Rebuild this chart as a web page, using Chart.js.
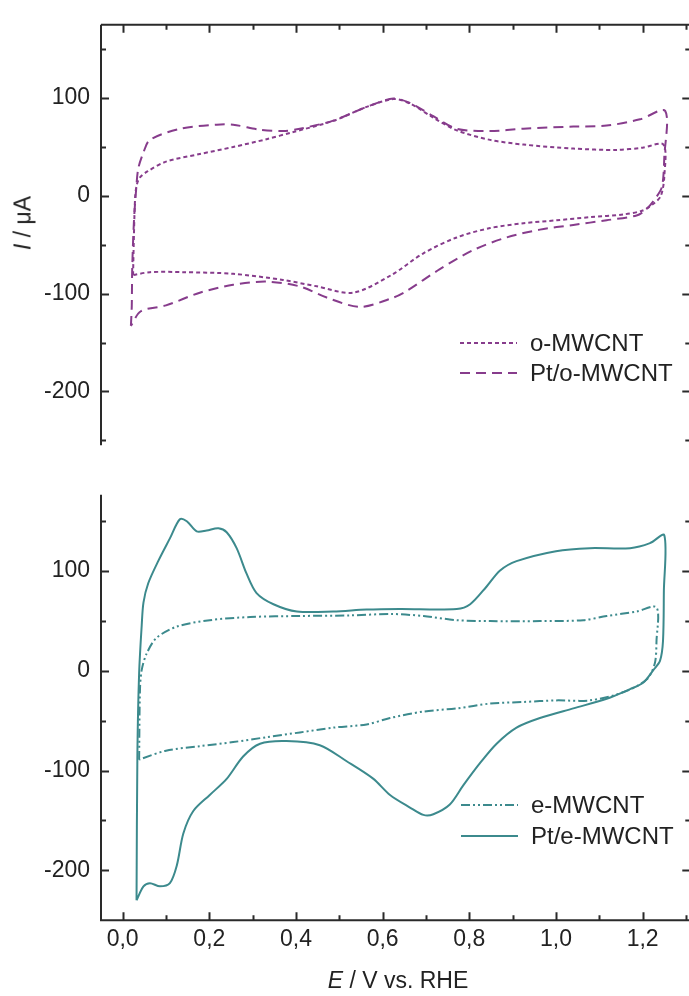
<!DOCTYPE html>
<html>
<head>
<meta charset="utf-8">
<script src="https://cdn.jsdelivr.net/npm/chart.js@4.4.1/dist/chart.umd.min.js"></script>
<style>
  body { margin: 0; background: #fff; width: 689px; height: 996px; overflow: hidden; position: relative;
         font-family: "Liberation Sans", Arial, sans-serif; color: #222; }
  #topCanvas { position: absolute; left: 0; top: 0; }
  #botCanvas { position: absolute; left: 0; top: 470px; }
  .axis-title { position: absolute; font-size: 23px; white-space: nowrap; transform: translate(-50%, -50%); }
  #yTitle { left: 23px; top: 223px; transform: translate(-50%, -50%) rotate(-90deg); }
  #xTitle { left: 398px; top: 980px; }
</style>
</head>
<body>
<canvas id="topCanvas" width="700" height="470"></canvas>
<canvas id="botCanvas" width="700" height="526"></canvas>
<div class="axis-title" id="yTitle"><i>I</i> / μA</div>
<div class="axis-title" id="xTitle"><i>E</i> / V vs. RHE</div>
<script>
// E in V vs. RHE, I in µA
const oE = [0.024, 0.026, 0.029, 0.033, 0.04, 0.057, 0.10, 0.178, 0.255, 0.332, 0.394, 0.486, 0.563, 0.625, 0.663, 0.717, 0.771, 0.848, 0.925, 1.04, 1.14, 1.2, 1.248, 1.25, 1.242, 1.225, 1.2, 1.155, 1.08, 1.002, 0.925, 0.848, 0.771, 0.694, 0.62, 0.532, 0.448, 0.37, 0.255, 0.14, 0.063, 0.024];
const oI = [-81, -40, 0, 12, 19, 25, 35, 42.8, 50, 58, 65.4, 76.7, 91, 99, 94.5, 80, 67, 57.3, 52.5, 48.4, 47, 49.3, 52.5, 20, 0, -8, -15, -19, -21.7, -24.9, -28, -32.9, -42.5, -58.7, -81, -99, -92.5, -86, -79.7, -78, -78, -81];

const ptoE = [0.019, 0.021, 0.022, 0.026, 0.031, 0.036, 0.048, 0.063, 0.133, 0.217, 0.255, 0.317, 0.37, 0.409, 0.486, 0.563, 0.625, 0.663, 0.717, 0.771, 0.848, 0.925, 1.04, 1.117, 1.194, 1.252, 1.25, 1.245, 1.232, 1.209, 1.186, 1.117, 1.04, 0.963, 0.886, 0.809, 0.732, 0.655, 0.625, 0.548, 0.471, 0.409, 0.332, 0.255, 0.178, 0.10, 0.042, 0.019];
const ptoI = [-133, -113, -75, -26, 6, 28, 44.5, 57.3, 68.7, 72.8, 72.8, 67.7, 66.3, 68.7, 77, 91, 99.5, 95, 81.5, 68.7, 66.3, 68.7, 70.9, 71.9, 78.3, 87, 40, 10, -1, -13.5, -20, -24.9, -29.7, -34.5, -42.5, -55.5, -74.9, -97.4, -104, -113.5, -104, -92.6, -87.7, -90.9, -99, -112, -118, -133];

const eE = [0.038, 0.04, 0.044, 0.055, 0.078, 0.125, 0.201, 0.294, 0.409, 0.525, 0.62, 0.694, 0.771, 0.848, 0.963, 1.063, 1.117, 1.186, 1.232, 1.232, 1.228, 1.209, 1.155, 1.078, 1.0, 0.925, 0.848, 0.771, 0.694, 0.617, 0.563, 0.486, 0.409, 0.332, 0.255, 0.178, 0.10, 0.038];
const eI = [-89, -18.3, 1, 17, 33, 44.4, 50.8, 54, 55, 55.6, 57, 55, 50.8, 49.9, 49.9, 50.8, 55, 59.5, 63.6, 30, 7.4, -8.7, -21.5, -29.6, -29.6, -31.2, -32.8, -37.6, -40.8, -47.3, -53.7, -56.9, -61.7, -66.5, -71.4, -75.5, -80, -89];

const pteE = [0.032, 0.034, 0.038, 0.044, 0.048, 0.059, 0.082, 0.109, 0.132, 0.148, 0.171, 0.194, 0.221, 0.24, 0.263, 0.286, 0.309, 0.348, 0.402, 0.486, 0.563, 0.64, 0.771, 0.802, 0.84, 0.871, 0.909, 1.0, 1.078, 1.171, 1.217, 1.25, 1.249, 1.247, 1.24, 1.225, 1.201, 1.171, 1.117, 1.04, 0.963, 0.909, 0.863, 0.825, 0.786, 0.755, 0.717, 0.694, 0.663, 0.617, 0.578, 0.517, 0.455, 0.378, 0.317, 0.278, 0.24, 0.201, 0.163, 0.14, 0.125, 0.109, 0.086, 0.063, 0.048, 0.032];
const pteI = [-230, -82.6, -2.2, 46, 68.5, 87.8, 110, 132.8, 152, 150, 139.8, 140.8, 143, 139, 123, 97.4, 78, 66.8, 59.5, 59.5, 61.4, 62, 62, 66.8, 84.6, 100.6, 110, 120, 123, 123, 128, 136, 80, 30, 10, 1, -12, -18.3, -28, -37.6, -47.3, -56.9, -73, -92.3, -114.8, -134, -143.7, -144.4, -137, -124.4, -108, -90.6, -74.5, -70.4, -73, -85.8, -108.3, -124.4, -140.5, -163, -195, -212.8, -216, -212.8, -216, -230];

const xTicks = [0, 0.2, 0.4, 0.6, 0.8, 1.0, 1.2];
const xMinor = [0.1, 0.3, 0.5, 0.7, 0.9, 1.1, 1.3];
const yTicks = [-200, -100, 0, 100];
const yMinor = [-250, -150, -50, 50, 150];

const purple = '#873c8c';
const teal = '#3c8a8d';
const axisColor = '#2a2a2a';
const X_MIN = -0.05, X_MAX = 1.31;

function pts(xs, ys) {
    return xs.map((x, i) => ({ x: x, y: ys[i] }));
}

// axis lines and inward tick marks, drawn on the scales of each chart
const framePlugin = {
    id: 'frame',
    afterDraw(chart, args, opts) {
        const ctx = chart.ctx;
        const a = chart.chartArea;
        const xs = chart.scales.x, ys = chart.scales.y;
        ctx.save();
        ctx.strokeStyle = axisColor;
        ctx.lineWidth = 2;
        ctx.beginPath();
        ctx.moveTo(a.left, a.top); ctx.lineTo(a.left, a.bottom);
        if (opts.top) { ctx.moveTo(a.left, a.top); ctx.lineTo(a.right, a.top); }
        if (opts.bottom) { ctx.moveTo(a.left - 1, a.bottom); ctx.lineTo(a.right, a.bottom); }
        if (opts.right) { ctx.moveTo(a.right, a.top); ctx.lineTo(a.right, a.bottom); }
        const yAll = yTicks.map(v => [v, 8]).concat(yMinor.map(v => [v, 5]));
        yAll.forEach(([v, len]) => {
            const py = Math.round(ys.getPixelForValue(v)) + 0.5;
            if (py < a.top || py > a.bottom) return;
            ctx.moveTo(a.left, py); ctx.lineTo(a.left + len, py);
            if (opts.right) { ctx.moveTo(a.right, py); ctx.lineTo(a.right - len, py); }
        });
        const xAll = xTicks.map(v => [v, 8]).concat(xMinor.map(v => [v, 5]));
        xAll.forEach(([v, len]) => {
            const px = Math.round(xs.getPixelForValue(v)) + 0.5;
            if (opts.top) { ctx.moveTo(px, a.top); ctx.lineTo(px, a.top + len); }
            if (opts.bottom) { ctx.moveTo(px, a.bottom); ctx.lineTo(px, a.bottom - len); }
        });
        ctx.stroke();
        ctx.restore();
    }
};

// legend inside the plot, line sample then label
const innerLegend = {
    id: 'innerLegend',
    afterDraw(chart, args, opts) {
        const ctx = chart.ctx;
        ctx.save();
        ctx.font = '24px "Liberation Sans", Arial, sans-serif';
        ctx.textBaseline = 'middle';
        ctx.fillStyle = '#222';
        chart.data.datasets.forEach((ds, i) => {
            const y = opts.y[i];
            ctx.strokeStyle = ds.borderColor;
            ctx.lineWidth = ds.borderWidth;
            ctx.setLineDash(ds.borderDash || []);
            ctx.beginPath();
            ctx.moveTo(opts.x, y); ctx.lineTo(opts.x + 57, y);
            ctx.stroke();
            ctx.setLineDash([]);
            ctx.fillText(ds.label, opts.x + 70, y + 1);
        });
        ctx.restore();
    }
};

const tickFont = { family: '"Liberation Sans", Arial, sans-serif', size: 23 };

function makeOptions(yMin, yMax, padTop, xHeight, showX, frame, legend) {
    return {
        responsive: false,
        animation: false,
        layout: { padding: { top: padTop, right: 700 - 690.3, left: 0, bottom: 0 } },
        plugins: { legend: { display: false }, tooltip: { enabled: false }, frame: frame, innerLegend: legend },
        elements: { point: { radius: 0 }, line: { tension: 0.3 } },
        scales: {
            x: {
                type: 'linear', min: X_MIN, max: X_MAX,
                grid: { display: false, drawTicks: false }, border: { display: false },
                afterBuildTicks: s => { s.ticks = xTicks.map(v => ({ value: v })); },
                ticks: {
                    display: showX, autoSkip: false, maxRotation: 0, padding: 6,
                    color: '#222', font: tickFont,
                    callback: v => v.toFixed(1).replace('.', ',')
                },
                afterFit: s => { s.height = xHeight; }
            },
            y: {
                type: 'linear', min: yMin, max: yMax,
                grid: { display: false, drawTicks: false }, border: { display: false },
                afterBuildTicks: s => { s.ticks = yTicks.map(v => ({ value: v })); },
                ticks: { autoSkip: false, padding: 11, color: '#222', font: tickFont, callback: v => String(v) },
                afterFit: s => { s.width = 101; }
            }
        }
    };
}

new Chart(document.getElementById('topCanvas'), {
    type: 'scatter',
    data: {
        datasets: [
            { label: 'o-MWCNT', data: pts(oE, oI), showLine: true, borderColor: purple, borderWidth: 2, borderDash: [4, 3] },
            { label: 'Pt/o-MWCNT', data: pts(ptoE, ptoI), showLine: true, borderColor: purple, borderWidth: 2, borderDash: [10, 6] }
        ]
    },
    options: makeOptions(-255, 175, 18.35, 7, false, { top: true, right: true }, { x: 460, y: [343, 373] }),
    plugins: [framePlugin, innerLegend]
});

new Chart(document.getElementById('botCanvas'), {
    type: 'scatter',
    data: {
        datasets: [
            { label: 'e-MWCNT', data: pts(eE, eI), showLine: true, borderColor: teal, borderWidth: 2, borderDash: [9, 3, 2, 3, 2, 3] },
            { label: 'Pt/e-MWCNT', data: pts(pteE, pteI), showLine: true, borderColor: teal, borderWidth: 2 }
        ]
    },
    options: makeOptions(-250, 176.5, 8, 526 - 450.25, true, { bottom: true, right: true }, { x: 461, y: [335, 366] }),
    plugins: [framePlugin, innerLegend]
});
</script>
</body>
</html>
